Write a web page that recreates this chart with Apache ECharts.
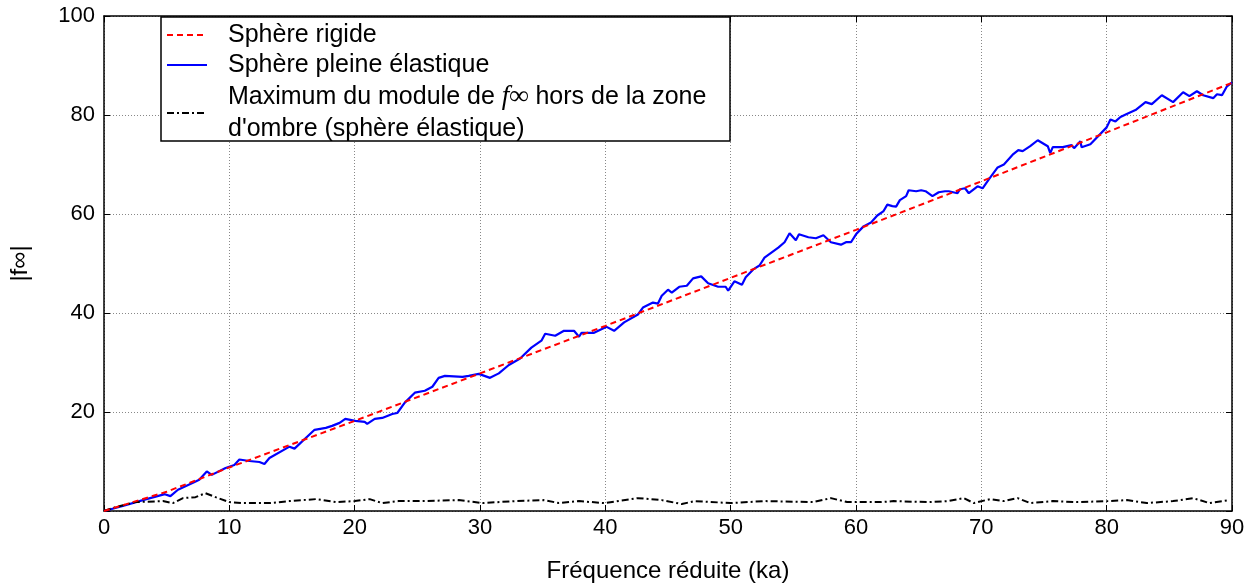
<!DOCTYPE html>
<html>
<head>
<meta charset="utf-8">
<script src="https://cdn.jsdelivr.net/npm/echarts@6/dist/echarts.min.js"></script>
<style>
  html, body { margin: 0; padding: 0; background: #fff; }
  #chart { width: 1250px; height: 588px; }
</style>
</head>
<body>
<div id="chart"></div>
<script>
// [ka, |f∞|]
var rigidSphere = [
  [0, 0], [5, 3.9], [10, 8.8], [20, 18.2], [30, 27.8], [40, 37.4],
  [50, 47.1], [60, 56.8], [70, 66.6], [80, 76.5], [90, 86.5]
]
var elasticSphere = [
  [0, 0], [1.5, 1.0], [3.1, 2.2], [4.85, 3.4], [5.3, 3.0], [5.9, 4.3], [7.1, 5.7], [7.6, 6.3],
  [8.2, 8.0], [8.6, 7.3], [9.7, 8.7], [10.4, 9.3], [10.8, 10.4], [11.6, 10.1], [12.4, 9.9],
  [12.8, 9.5], [13.2, 10.7], [14.8, 13.0], [15.2, 12.6], [16.8, 16.4], [17.7, 16.8], [18.2, 17.2],
  [18.8, 17.8], [19.25, 18.6], [20.05, 18.2], [20.8, 18.0], [21.0, 17.6], [21.6, 18.6], [22.2, 18.8],
  [23.0, 19.6], [23.4, 19.8], [24.0, 21.9], [24.8, 23.9], [25.6, 24.3], [26.2, 25.1], [26.7, 26.9],
  [27.2, 27.3], [28.6, 27.1], [29.1, 27.3], [29.9, 27.7], [30.8, 26.9], [31.5, 27.8], [32.3, 29.5],
  [33.2, 30.8], [34.1, 33.0], [34.9, 34.4], [35.2, 35.8], [36.0, 35.4], [36.7, 36.4], [37.5, 36.4],
  [37.9, 35.2], [38.1, 36.0], [39.1, 36.0], [40.1, 37.2], [40.7, 36.4], [41.5, 38.1], [42.6, 39.7],
  [43.0, 41.1], [43.8, 42.1], [44.2, 41.9], [44.5, 43.5], [45.0, 44.7], [45.3, 44.1], [45.9, 45.3],
  [46.5, 45.5], [47.0, 47.0], [47.65, 47.4], [48.2, 46.0], [49.0, 45.3], [49.6, 45.3], [49.8, 44.5],
  [50.3, 46.4], [50.9, 45.7], [51.2, 47.2], [51.8, 48.8], [52.3, 49.6], [52.7, 51.2], [53.8, 53.2],
  [54.3, 54.3], [54.7, 56.1], [55.2, 54.7], [55.45, 55.9], [56.2, 55.3], [56.8, 55.1], [57.4, 55.7],
  [58.0, 54.3], [58.8, 53.8], [59.2, 54.3], [59.6, 54.3], [60.0, 55.9], [60.6, 57.5], [61.2, 58.3],
  [61.7, 59.7], [62.2, 60.6], [62.5, 61.9], [62.9, 61.6], [63.2, 61.5], [63.5, 62.8], [64.0, 63.6],
  [64.2, 64.8], [64.8, 64.6], [65.2, 64.8], [65.55, 64.6], [66.1, 63.6], [66.6, 64.4], [67.1, 64.6],
  [67.4, 64.6], [68.1, 64.2], [68.3, 65.0], [68.7, 65.2], [69.0, 64.2], [69.7, 65.6], [70.1, 65.2],
  [70.6, 67.0], [71.3, 69.4], [71.8, 70.0], [72.55, 72.1], [72.95, 72.9], [73.3, 72.7], [73.9, 73.7],
  [74.5, 74.9], [75.3, 73.7], [75.5, 72.3], [75.7, 73.5], [76.5, 73.5], [77.2, 73.9], [77.4, 73.3],
  [77.9, 74.7], [78.0, 73.5], [78.7, 74.1], [80.0, 77.5], [80.3, 79.1], [80.7, 78.7], [81.1, 79.6],
  [81.6, 80.2], [82.3, 81.0], [82.4, 80.6], [83.1, 82.6], [83.6, 82.2], [84.4, 84.0], [85.3, 82.6],
  [86.1, 84.6], [86.6, 83.8], [87.2, 84.8], [87.7, 84.0], [88.5, 83.4], [88.8, 84.2], [89.2, 84.0],
  [89.6, 85.8], [90.0, 86.6]
]
var maxOutsideShadow = [
  [0, 0], [0.95, 0.8], [2.5, 1.8], [4.7, 2.0], [5.5, 1.6], [6.3, 2.6], [7.3, 2.8], [8.1, 3.6],
  [8.9, 2.8], [10.0, 1.8], [11.1, 1.6], [13.2, 1.6], [14.8, 2.0], [16.9, 2.4], [18.5, 1.8],
  [20.0, 2.0], [21.2, 2.4], [22.2, 1.6], [23.5, 2.0], [25.1, 2.0], [28.3, 2.2], [30.2, 1.6],
  [32.8, 2.0], [35.1, 2.2], [36.3, 1.6], [37.9, 2.0], [39.9, 1.6], [42.6, 2.6], [44.5, 2.2],
  [46.1, 1.4], [47.1, 2.0], [50.0, 1.6], [52.7, 2.0], [56.6, 1.8], [58.0, 2.6], [59.3, 1.8],
  [62.0, 1.8], [63.0, 2.0], [65.7, 1.8], [67.3, 2.0], [68.6, 2.6], [69.4, 1.6], [70.7, 2.4],
  [71.8, 2.0], [72.9, 2.6], [73.9, 1.6], [75.7, 2.0], [77.6, 1.8], [80.1, 2.0], [81.6, 2.2],
  [83.2, 1.6], [85.3, 2.0], [86.9, 2.6], [88.2, 1.6], [89.8, 2.2]
]
var seriesNames = [
  'Sphère rigide',
  'Sphère pleine élastique',
  'Maximum du module de {i|f∞} hors de la zone\nd\'ombre (sphère élastique)'
]

var font = 'Liberation Sans, Arial, sans-serif'
var chart = echarts.init(document.getElementById('chart'))

var gridLine = { show: true, lineStyle: { color: '#888', width: 1, type: [1, 2] } }
var frame = { show: true, onZero: false, lineStyle: { color: '#000', width: 1.5 } }
var innerTick = { show: true, inside: true, length: 6, lineStyle: { color: '#000', width: 1 } }

chart.setOption({
  animation: false,
  grid: { left: 101, right: 18, top: 16, bottom: 77, containLabel: false },
  graphic: [{
    type: 'rect',
    z: 5,
    shape: { x: 161, y: 17, width: 569, height: 124 },
    style: { fill: '#fff', stroke: '#000', lineWidth: 1.5 }
  }],
  legend: {
    z: 6,
    orient: 'vertical',
    left: 166,
    top: 21,
    padding: 0,
    itemGap: 2,
    itemWidth: 40,
    itemHeight: 14,
    selectedMode: false,
    // hide the marker circle, keep the line sample
    itemStyle: { opacity: 0 },
    textStyle: {
      fontFamily: font,
      fontSize: 25,
      color: '#000',
      lineHeight: 28,
      padding: [0, 0, 0, 16],
      rich: {
        i: { fontFamily: 'Liberation Serif, serif', fontStyle: 'italic', fontSize: 27, color: '#000' }
      }
    },
    data: [
      { name: seriesNames[0] },
      { name: seriesNames[1] },
      { name: seriesNames[2], textStyle: { lineHeight: 32 } }
    ]
  },
  xAxis: [{
    type: 'value',
    min: 0, max: 90, interval: 10,
    name: 'Fréquence réduite (ka)',
    nameLocation: 'middle',
    nameGap: 48,
    nameTextStyle: { fontFamily: font, fontSize: 24, color: '#000' },
    axisLine: frame,
    axisTick: innerTick,
    axisLabel: { fontFamily: font, fontSize: 22, color: '#000', margin: 6 },
    splitLine: gridLine
  }, {
    type: 'value', position: 'top',
    min: 0, max: 90, interval: 10,
    axisLine: frame, axisTick: innerTick,
    axisLabel: { show: false }, splitLine: { show: false }
  }],
  yAxis: [{
    type: 'value',
    min: 0, max: 100, interval: 20,
    name: '|f∞|',
    nameLocation: 'middle',
    nameRotate: 90,
    nameGap: 72,
    nameTextStyle: { fontFamily: font, fontSize: 24, color: '#000' },
    axisLine: frame,
    axisTick: innerTick,
    axisLabel: {
      fontFamily: font, fontSize: 22, color: '#000', margin: 9,
      formatter: function (v) { return v === 0 ? '' : v }
    },
    splitLine: gridLine
  }, {
    type: 'value', position: 'right',
    min: 0, max: 100, interval: 20,
    axisLine: frame, axisTick: innerTick,
    axisLabel: { show: false }, splitLine: { show: false }
  }],
  series: [
    {
      name: seriesNames[0],
      type: 'line',
      symbol: 'none',
      z: 3,
      lineStyle: { color: '#ff0000', width: 2, type: [6, 4] },
      itemStyle: { color: '#ff0000' },
      data: rigidSphere
    },
    {
      name: seriesNames[1],
      type: 'line',
      symbol: 'none',
      z: 2,
      lineStyle: { color: '#0000ff', width: 2.2 },
      itemStyle: { color: '#0000ff' },
      data: elasticSphere
    },
    {
      name: seriesNames[2],
      type: 'line',
      symbol: 'none',
      z: 2,
      lineStyle: { color: '#000', width: 2, type: [7, 3, 2, 3] },
      itemStyle: { color: '#000' },
      data: maxOutsideShadow
    }
  ]
})
</script>
</body>
</html>
